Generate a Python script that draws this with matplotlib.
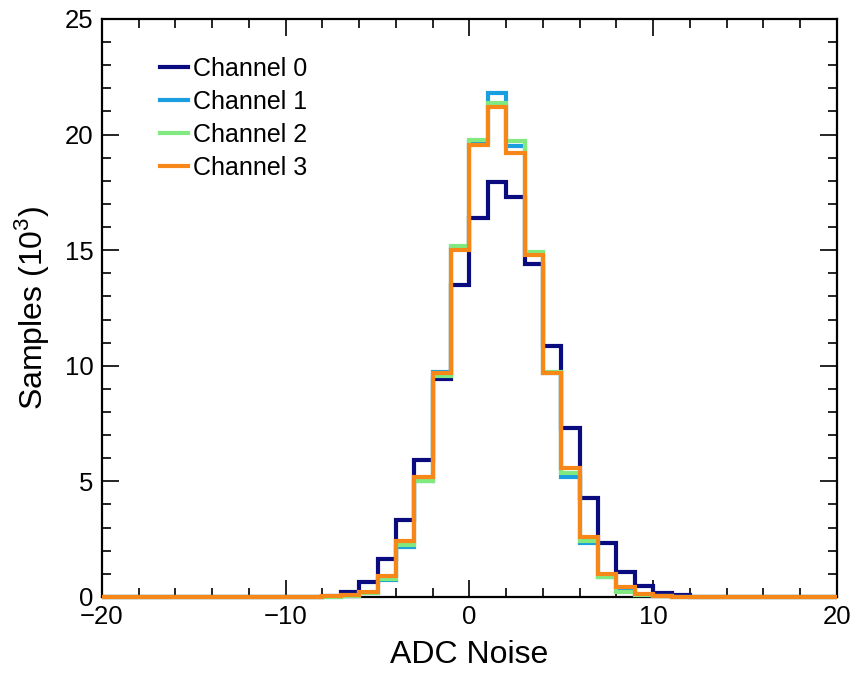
import numpy as np
import matplotlib
matplotlib.use("Agg")
import matplotlib.pyplot as plt
from matplotlib.ticker import MultipleLocator

plt.rcParams['font.family'] = ['Liberation Sans', 'DejaVu Sans']
plt.rcParams['mathtext.fontset'] = 'custom'
plt.rcParams['mathtext.rm'] = 'Liberation Sans'

# Histogram range and bins (width 1 from -20 to 20)
x_min, x_max = -20, 20
first_bin = -8          # left edge of the first listed bin below
labels = ["Channel 0", "Channel 1", "Channel 2", "Channel 3"]
colors = ["#0b0b80", "#1a9ee0", "#80ea80", "#f8871a"]

# Samples (10^3) per bin, bins [-8,-7) ... [11,12)
ch0 = [0.06, 0.23, 0.66, 1.63, 3.33, 5.93, 9.42, 13.5, 16.4, 17.96,
       17.29, 14.4, 10.87, 7.3, 4.27, 2.35, 1.1, 0.49, 0.16, 0.07]
ch1 = [0.01, 0.04, 0.15, 0.75, 2.18, 5.03, 9.75, 15.1, 19.7, 21.78,
       19.5, 14.84, 9.7, 5.2, 2.35, 0.85, 0.25, 0.08, 0.02, 0.0]
ch2 = [0.01, 0.05, 0.16, 0.77, 2.25, 5.03, 9.55, 15.2, 19.77, 21.38,
       19.72, 14.93, 9.72, 5.35, 2.44, 0.88, 0.23, 0.08, 0.02, 0.0]
ch3 = [0.02, 0.09, 0.23, 0.91, 2.42, 5.2, 9.67, 15.0, 19.55, 21.2,
       19.2, 14.8, 9.67, 5.57, 2.61, 0.99, 0.42, 0.13, 0.02, 0.0]
series = [ch0, ch1, ch2, ch3]

edges = np.arange(x_min, x_max + 1)

fig = plt.figure(figsize=(8.5, 6.73), dpi=100)
ax = fig.add_axes([0.12, 0.113, 0.8647, 0.8588])

for vals, col, lab, z in zip(series, colors, labels, [3, 4, 5, 6]):
    full = np.zeros(len(edges) - 1)
    start = first_bin - x_min
    full[start:start + len(vals)] = vals
    ax.stairs(full, edges, baseline=None, color=col, linewidth=3,
              label=lab, zorder=z, clip_on=False)

ax.set_xlim(x_min, x_max)
ax.set_ylim(0, 25)
ax.xaxis.set_major_locator(MultipleLocator(10))
ax.xaxis.set_minor_locator(MultipleLocator(2))
ax.yaxis.set_major_locator(MultipleLocator(5))
ax.yaxis.set_minor_locator(MultipleLocator(1))
ax.tick_params(which='both', direction='in', top=True, right=True,
               labelsize=18.5, width=1.2, colors='black')
ax.tick_params(which='major', length=12, pad=6)
ax.tick_params(which='minor', length=6.5)
for s in ax.spines.values():
    s.set_linewidth(1.6)

ax.set_xlabel("ADC Noise", fontsize=23, labelpad=8)
ax.set_ylabel(r"Samples (10$^{3}$)", fontsize=23, labelpad=10)

leg = ax.legend(loc='upper left', bbox_to_anchor=(0.079, 0.935), frameon=False,
                fontsize=18, handlelength=1.12, handletextpad=0.2,
                labelspacing=0.36, borderaxespad=0, borderpad=0)

fig.savefig("out.png", dpi=100)
